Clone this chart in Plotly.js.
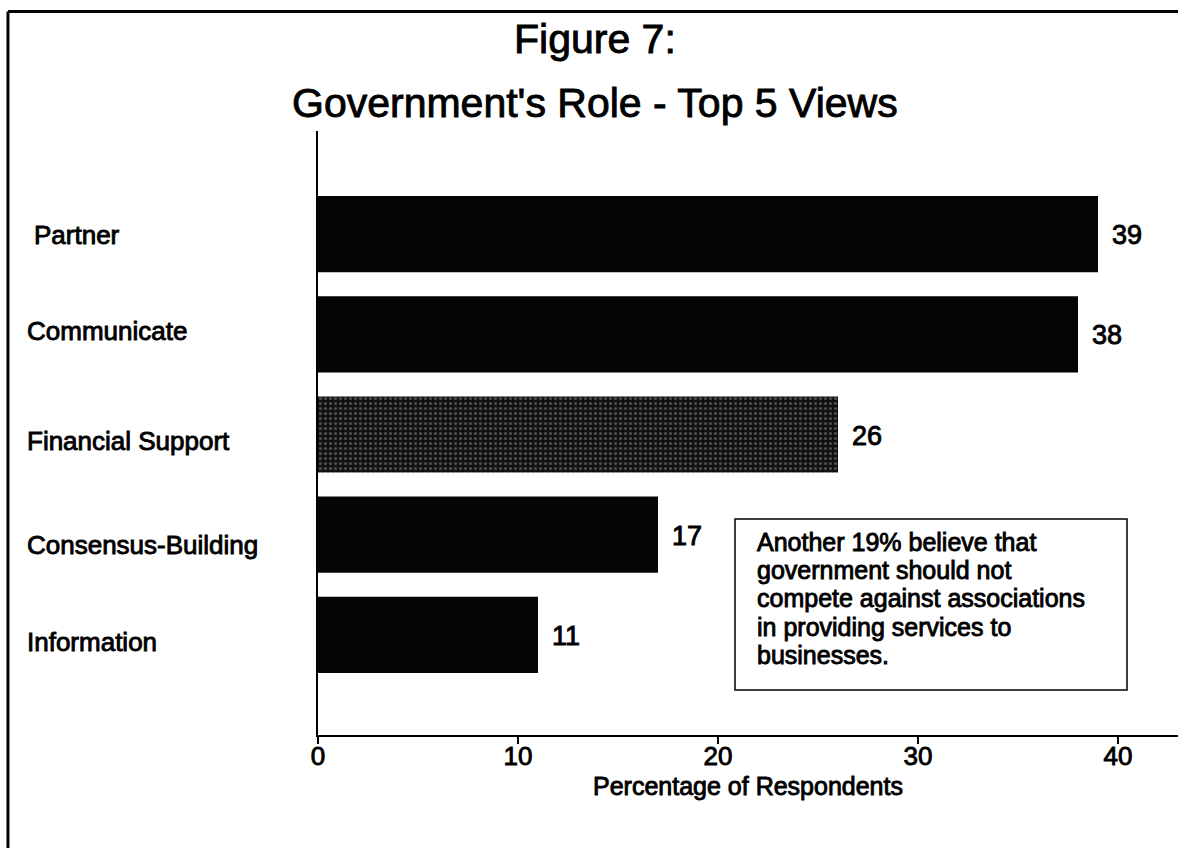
<!DOCTYPE html>
<html>
<head>
<meta charset="utf-8">
<script src="https://cdn.plot.ly/plotly-3.0.1.min.js"></script>
<style>
  html, body { margin: 0; padding: 0; background: #fff; }
  #chart { width: 1178px; height: 848px; }
  #chart text { stroke: #000; stroke-width: 0.9px; }
</style>
</head>
<body>
<div id="chart"></div>
<script>
// ---- data ----
const categories = ['Partner', 'Communicate', 'Financial Support', 'Consensus-Building', 'Information'];
const values = [39, 38, 26, 17, 11];
const xTicks = [0, 10, 20, 30, 40];
const titleLine1 = 'Figure 7:';
const titleLine2 = "Government's Role - Top 5 Views";
const xTitle = 'Percentage of Respondents';
const noteLines = [
  'Another 19% believe that',
  'government should not',
  'compete against associations',
  'in providing services to',
  'businesses.'
];

// ---- styles ----
const FONT = 'Liberation Sans, Arial, Helvetica, sans-serif';
const barPattern = ['', '', '.', '', ''];
const labelIndent = [7, 0, 0, 0, 0];
const labelShift = [-1, 3, -6, -10, -7];

const trace = {
  type: 'bar',
  orientation: 'h',
  y: categories,
  x: values,
  width: 0.76,
  marker: {
    color: '#050505',
    line: { width: 0 },
    pattern: { shape: barPattern, fgcolor: '#8a8a8a', bgcolor: '#111', size: 5, solidity: 0.3, fillmode: 'overlay' }
  },
  hoverinfo: 'skip',
  showlegend: false
};

const annotations = [];
categories.forEach((c, i) => {
  annotations.push({
    xref: 'paper', yref: 'y', x: -0.3407, y: c, xanchor: 'left', yanchor: 'middle',
    xshift: labelIndent[i], yshift: labelShift[i],
    text: c, showarrow: false, font: { family: FONT, size: 26, color: '#000' }
  });
  annotations.push({
    xref: 'x', yref: 'y', x: values[i], y: c, xanchor: 'left', yanchor: 'middle',
    xshift: 12, yshift: -1,
    text: String(values[i]), showarrow: false, font: { family: FONT, size: 27, color: '#000' }
  });
});

annotations.push({
  xref: 'paper', yref: 'paper', x: 0.322, y: 1.0464, xanchor: 'center', yanchor: 'middle',
  text: titleLine2, showarrow: false, font: { family: FONT, size: 41, color: '#000' }
});

// note text, one line each
const noteTop = 542; // pixel centre of first line
noteLines.forEach((t, i) => {
  const py = noteTop + i * 28.2;
  annotations.push({
    xref: 'x', yref: 'paper', x: 21.85, y: (735 - py) / 604, xanchor: 'left', yanchor: 'middle',
    text: t, showarrow: false, font: { family: FONT, size: 25, color: '#000' }
  });
});

const shapes = [
  // note box
  { type: 'rect', xref: 'x', yref: 'paper', x0: 20.85, x1: 40.45, y0: 0.0745, y1: 0.3576,
    line: { color: '#000', width: 1.5 }, fillcolor: 'rgba(0,0,0,0)' },
  // page frame (top and left)
  { type: 'line', xref: 'paper', yref: 'paper', x0: -0.3605, x1: 1.0, y0: 1.198, y1: 1.198,
    line: { color: '#000', width: 3 } },
  { type: 'line', xref: 'paper', yref: 'paper', x0: -0.3605, x1: -0.3605, y0: 1.198, y1: -0.19,
    line: { color: '#000', width: 3 } }
];

const layout = {
  width: 1178, height: 848,
  margin: { l: 318, r: 0, t: 131, b: 113, pad: 0 },
  paper_bgcolor: '#fff', plot_bgcolor: '#fff',
  font: { family: FONT, color: '#000' },
  title: {
    text: titleLine1, font: { family: FONT, size: 41, color: '#000' },
    xref: 'paper', x: 0.322, xanchor: 'center', yref: 'container', y: 1 - 39 / 848, yanchor: 'middle'
  },
  xaxis: {
    range: [0, 43], tickvals: xTicks, ticktext: xTicks.map(String),
    ticks: 'outside', ticklen: 7, tickwidth: 2, tickcolor: '#000',
    ticklabelstandoff: -10,
    showline: true, linecolor: '#000', linewidth: 2,
    showgrid: false, zeroline: false,
    tickfont: { family: FONT, size: 26, color: '#000' },
    title: { text: xTitle, font: { family: FONT, size: 25, color: '#000' }, standoff: 7 },
    fixedrange: true
  },
  yaxis: {
    type: 'category', categoryorder: 'array', categoryarray: categories,
    range: [5.0, -1.03],
    showticklabels: false, ticks: '',
    showline: true, linecolor: '#000', linewidth: 2,
    showgrid: false, zeroline: false, fixedrange: true
  },
  annotations: annotations,
  shapes: shapes
};

Plotly.newPlot('chart', [trace], layout, { displayModeBar: false, staticPlot: true });
</script>
</body>
</html>
